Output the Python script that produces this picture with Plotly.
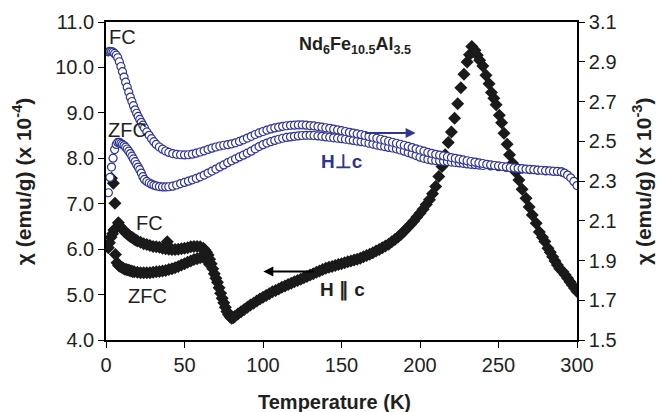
import plotly.graph_objects as go

# H || c, field-cooled (left axis, x 10^-4 emu/g)
t_par_fc = [3.5, 4.7, 5.7, 7.9, 9, 10, 11, 12, 13, 14, 15, 16, 17, 18, 19, 20, 22, 24, 26, 28,
            30, 32, 34, 36, 38, 39, 40, 42, 44, 46, 48, 50, 52, 54, 56, 58, 60, 62, 63, 64,
            65, 66, 67, 68, 69, 70, 71, 72, 73, 74, 75, 76, 77, 78, 79, 80, 81, 82, 84, 86,
            88, 90, 92, 94, 96, 98, 100, 102, 104, 106, 108, 110, 112, 114, 116, 118, 120, 122, 124, 126,
            128, 130, 132, 134, 136, 138, 140, 142, 144, 146, 148, 150, 152, 154, 156, 158, 160, 162, 164, 166,
            168, 170, 172, 174, 176, 178, 180, 182, 184, 186, 188, 190, 192, 194, 196, 198, 200, 202, 204, 206,
            208, 210, 212, 214, 216, 218, 220, 222, 224, 226, 228, 230, 231.5, 233, 235, 236.5, 238, 240, 242, 244,
            245.5, 247, 248.5, 250.5, 252, 253.5, 255.5, 257, 259, 261, 263, 265, 267.5, 269.5, 271.5, 274, 276, 278, 279.5, 281.5,
            283, 284.5, 286, 287.5, 289, 291, 292.5, 294, 295.5, 297, 298.5, 300]
chi_par_fc = [7.56, 7.45, 7.01, 6.58, 6.50, 6.46, 6.42, 6.38, 6.35, 6.32, 6.29, 6.27, 6.25, 6.22, 6.20, 6.18, 6.15, 6.12, 6.10, 6.08,
              6.06, 6.05, 6.04, 6.02, 6.01, 6.16, 6.00, 5.99, 5.99, 6.00, 6.01, 6.02, 6.03, 6.05, 6.06, 6.06, 6.05, 6.02, 5.98, 5.93,
              5.87, 5.78, 5.68, 5.57, 5.46, 5.36, 5.27, 5.15, 5.03, 4.92, 4.82, 4.72, 4.63, 4.56, 4.51, 4.48, 4.49, 4.52, 4.57, 4.62,
              4.67, 4.72, 4.77, 4.81, 4.86, 4.90, 4.94, 4.98, 5.02, 5.06, 5.09, 5.12, 5.16, 5.19, 5.22, 5.25, 5.28, 5.31, 5.34, 5.37,
              5.40, 5.43, 5.46, 5.49, 5.52, 5.55, 5.58, 5.60, 5.62, 5.64, 5.66, 5.68, 5.70, 5.72, 5.74, 5.76, 5.78, 5.80, 5.83, 5.86,
              5.89, 5.92, 5.96, 5.99, 6.03, 6.07, 6.11, 6.16, 6.21, 6.27, 6.33, 6.40, 6.47, 6.54, 6.62, 6.71, 6.79, 6.88, 6.98, 7.09,
              7.22, 7.38, 7.60, 7.82, 8.08, 8.35, 8.58, 8.88, 9.20, 9.55, 9.85, 10.12, 10.28, 10.46, 10.38, 10.27, 10.16, 10.03, 9.83, 9.64,
              9.45, 9.32, 9.18, 8.95, 8.78, 8.55, 8.31, 8.08, 7.89, 7.70, 7.52, 7.32, 7.12, 6.93, 6.75, 6.57, 6.38, 6.26, 6.17, 6.02,
              5.93, 5.83, 5.74, 5.65, 5.57, 5.50, 5.43, 5.36, 5.28, 5.21, 5.14, 5.07]

# H || c, zero-field-cooled (left axis)
t_par_zfc = [1.5, 2.2, 3.2, 4.2, 5.0, 6.0, 7.0, 8, 9, 10, 11, 12, 13, 14, 15, 16, 17, 18, 20, 22,
             24, 26, 28, 30, 32, 34, 36, 38, 40, 42, 44, 46, 48, 50, 52, 54, 56, 58, 60, 62,
             63, 64, 65, 66]
chi_par_zfc = [6.03, 6.14, 6.26, 6.34, 6.42, 5.88, 5.70, 5.64, 5.62, 5.60, 5.58, 5.56, 5.55, 5.54, 5.53, 5.52, 5.51, 5.50, 5.49, 5.48,
               5.48, 5.48, 5.48, 5.49, 5.50, 5.51, 5.52, 5.53, 5.55, 5.57, 5.59, 5.62, 5.65, 5.68, 5.71, 5.74, 5.77, 5.79, 5.81, 5.82,
               5.81, 5.78, 5.73, 5.66]

# H perp c, field-cooled (right axis, x 10^-3 emu/g)
t_perp_fc = [1.5, 2.5, 3.5, 4.5, 5.5, 6.5, 7.5, 8.5, 9.5, 10.5, 11.5, 12.5, 13.5, 14.5, 15.5, 16.5, 17.5, 18.5, 19.5, 20.5,
             21.5, 22.5, 23.5, 24.5, 26, 27.5, 29, 30.5, 32, 34, 36, 38, 40, 42.5, 45, 47.5, 50, 52.5, 55, 57.5,
             60, 62.5, 65, 67.5, 70, 72.5, 75, 77.5, 80, 82.5, 85, 87.5, 90, 92.5, 95, 97.5, 100, 102.5, 105, 107.5,
             110, 112.5, 115, 117.5, 120, 122.5, 125, 127.5, 130, 132.5, 135, 137.5, 140, 142.5, 145, 147.5, 150, 152.5, 155, 157.5,
             160, 162.5, 165, 167.5, 170, 172.5, 175, 177.5, 180, 182.5, 185, 187.5, 190, 192.5, 195, 197.5, 200, 202.5, 205, 207.5,
             210, 212.5, 215, 217.5, 220, 222.5, 225, 227.5, 230, 232.5, 235, 237.5, 240, 242.5, 245, 247.5, 250, 252.5, 255, 257.5,
             260, 262.5, 265, 267.5, 270, 272.5, 275, 277.5, 280, 282.5, 285, 287.5, 290, 292, 294, 296, 298, 300]
chi_perp_fc = [2.950, 2.952, 2.951, 2.948, 2.942, 2.933, 2.920, 2.900, 2.876, 2.850, 2.823, 2.797, 2.772, 2.747, 2.722, 2.700, 2.679, 2.658, 2.641, 2.625,
               2.610, 2.595, 2.581, 2.567, 2.547, 2.530, 2.513, 2.498, 2.484, 2.471, 2.460, 2.451, 2.444, 2.438, 2.434, 2.432, 2.431, 2.432, 2.435, 2.440,
               2.446, 2.452, 2.459, 2.465, 2.471, 2.476, 2.480, 2.483, 2.487, 2.492, 2.499, 2.507, 2.516, 2.525, 2.534, 2.542, 2.549, 2.556, 2.562, 2.567,
               2.571, 2.575, 2.578, 2.580, 2.581, 2.582, 2.582, 2.581, 2.579, 2.577, 2.574, 2.571, 2.568, 2.565, 2.561, 2.557, 2.553, 2.549, 2.545, 2.541,
               2.537, 2.533, 2.529, 2.524, 2.520, 2.515, 2.510, 2.505, 2.500, 2.495, 2.490, 2.485, 2.480, 2.474, 2.468, 2.462, 2.456, 2.450, 2.444, 2.439,
               2.434, 2.430, 2.426, 2.422, 2.418, 2.414, 2.410, 2.406, 2.402, 2.398, 2.395, 2.391, 2.388, 2.384, 2.381, 2.378, 2.376, 2.373, 2.371, 2.368,
               2.366, 2.364, 2.362, 2.360, 2.358, 2.357, 2.355, 2.354, 2.352, 2.351, 2.349, 2.348, 2.346, 2.340, 2.330, 2.316, 2.298, 2.277]

# H perp c, zero-field-cooled (right axis)
t_perp_zfc = [1.5, 2.5, 3.5, 4.5, 5.5, 6.5, 7.5, 8.5, 9.5, 10.5, 11.5, 12.5, 13.5, 14.5, 15.5, 16.5, 17.5, 18.5, 19.5, 20.5,
              21.5, 22.5, 23.5, 24.5, 26, 27.5, 29, 30.5, 32, 34, 36, 38, 40, 42.5, 45, 47.5, 50, 52.5, 55, 57.5,
              60, 62.5, 65, 67.5, 70, 72.5, 75, 77.5, 80, 82.5, 85, 87.5, 90, 92.5, 95, 97.5, 100, 102.5, 105, 107.5,
              110, 112.5, 115, 117.5, 120, 122.5, 125, 127.5, 130, 132.5, 135, 137.5, 140, 142.5, 145, 147.5, 150, 152.5, 155, 157.5,
              160, 162.5, 165, 167.5, 170, 172.5, 175, 177.5, 180, 182.5, 185, 187.5, 190, 192.5, 195, 197.5, 200, 202.5, 205, 207.5,
              210, 212.5, 215, 217.5, 220, 222.5, 225, 227.5, 230, 232.5, 235, 237.5, 240, 245, 250, 255, 260, 265, 270, 275,
              280, 285, 290]
chi_perp_zfc = [2.241, 2.318, 2.370, 2.415, 2.458, 2.484, 2.494, 2.494, 2.489, 2.484, 2.478, 2.470, 2.461, 2.450, 2.438, 2.425, 2.411, 2.397, 2.383, 2.370,
                2.357, 2.340, 2.322, 2.308, 2.298, 2.290, 2.284, 2.279, 2.275, 2.272, 2.270, 2.270, 2.271, 2.274, 2.280, 2.287, 2.293, 2.299, 2.306, 2.313,
                2.321, 2.330, 2.340, 2.350, 2.360, 2.371, 2.381, 2.392, 2.402, 2.411, 2.421, 2.430, 2.440, 2.450, 2.462, 2.473, 2.483, 2.491, 2.498, 2.504,
                2.510, 2.515, 2.519, 2.522, 2.525, 2.527, 2.529, 2.530, 2.530, 2.529, 2.527, 2.525, 2.522, 2.520, 2.517, 2.515, 2.513, 2.510, 2.507, 2.504,
                2.501, 2.498, 2.495, 2.490, 2.486, 2.481, 2.477, 2.473, 2.469, 2.466, 2.462, 2.456, 2.450, 2.443, 2.436, 2.428, 2.420, 2.414, 2.409, 2.405,
                2.403, 2.401, 2.399, 2.397, 2.395, 2.393, 2.391, 2.389, 2.386, 2.384, 2.382, 2.380, 2.378, 2.376, 2.372, 2.368, 2.364, 2.360, 2.357, 2.354,
                2.351, 2.349, 2.346]

x_ticks = [0, 50, 100, 150, 200, 250, 300]

FONT = "Liberation Sans, Arial, sans-serif"
BLUE = "#2e3592"
BLACK = "#1a1a1a"
TXT = "#231f20"

fig = go.Figure()

diamond = dict(symbol="diamond", size=10, color=BLACK, line=dict(width=0))
circle = dict(symbol="circle", size=8, color="white", line=dict(color=BLUE, width=1.2))

fig.add_trace(go.Scatter(x=t_par_zfc, y=chi_par_zfc, mode="markers", marker=diamond, yaxis="y"))
fig.add_trace(go.Scatter(x=t_par_fc, y=chi_par_fc, mode="markers", marker=diamond, yaxis="y"))
fig.add_trace(go.Scatter(x=t_perp_zfc, y=chi_perp_zfc, mode="markers", marker=circle, yaxis="y2"))
fig.add_trace(go.Scatter(x=t_perp_fc, y=chi_perp_fc, mode="markers", marker=circle, yaxis="y2"))

axis_common = dict(showline=True, linecolor="black", linewidth=1.6, ticks="outside",
                   ticklen=6, tickwidth=1.4, tickcolor="black", showgrid=False, zeroline=False,
                   tickfont=dict(family=FONT, size=20, color=TXT))

fig.update_layout(
    width=662, height=412,
    margin=dict(l=106, r=85, t=22, b=72),
    paper_bgcolor="white", plot_bgcolor="white",
    showlegend=False, hovermode=False,
    xaxis=dict(range=[0, 300], tickvals=x_ticks, mirror=True, **axis_common),
    yaxis=dict(range=[4, 11], dtick=1, tickformat=".1f", **axis_common),
    yaxis2=dict(range=[1.5, 3.1], dtick=0.2, tick0=1.5, tickformat=".1f",
                overlaying="y", side="right", **axis_common),
)

def label(text, x, y, size=20, bold=False, color=TXT, yref="y", **kw):
    fig.add_annotation(text=f"<b>{text}</b>" if bold else text, x=x, y=y, xref="x", yref=yref,
                       showarrow=False, font=dict(family=FONT, size=size, color=color),
                       xanchor="center", yanchor="middle", **kw)

# curve labels
label("FC", 10.2, 10.67)
label("ZFC", 14.0, 8.62)
label("FC", 27.4, 6.58)
label("ZFC", 26.2, 4.97)
label("Nd<sub>6</sub>Fe<sub>10.5</sub>Al<sub>3.5</sub>", 158.3, 10.49, size=18, bold=True)
label("H⊥c", 150.6, 7.94, size=19, bold=True, color=BLUE)
label("H ∥ c", 150.6, 5.10, size=19, bold=True, color=TXT)

# arrows pointing to each curve's axis
fig.add_annotation(x=197.2, y=2.541, xref="x", yref="y2", ax=-52, ay=0, text="",
                   showarrow=True, arrowhead=2, arrowsize=1, arrowwidth=2, arrowcolor=BLUE)
fig.add_annotation(x=100.2, y=5.508, xref="x", yref="y", ax=52, ay=0, text="",
                   showarrow=True, arrowhead=2, arrowsize=1, arrowwidth=2, arrowcolor="black")

# axis titles
title_font = dict(family=FONT, size=20, color=TXT)
fig.add_annotation(text="<b>Temperature (K)</b>", xref="paper", yref="paper", x=0.486, y=-0.195,
                   showarrow=False, font=title_font, xanchor="center", yanchor="middle")
fig.add_annotation(text="<b>χ (emu/g) (x 10<sup>-4</sup>)</b>", xref="paper", yref="paper",
                   x=-0.178, y=0.50, textangle=-90, showarrow=False,
                   font=dict(family=FONT, size=21, color=TXT), xanchor="center", yanchor="middle")
fig.add_annotation(text="<b>χ (emu/g) (x 10<sup>-3</sup>)</b>", xref="paper", yref="paper",
                   x=1.138, y=0.50, textangle=-90, showarrow=False,
                   font=dict(family=FONT, size=21, color=TXT), xanchor="center", yanchor="middle")

fig.write_html("out.html")
